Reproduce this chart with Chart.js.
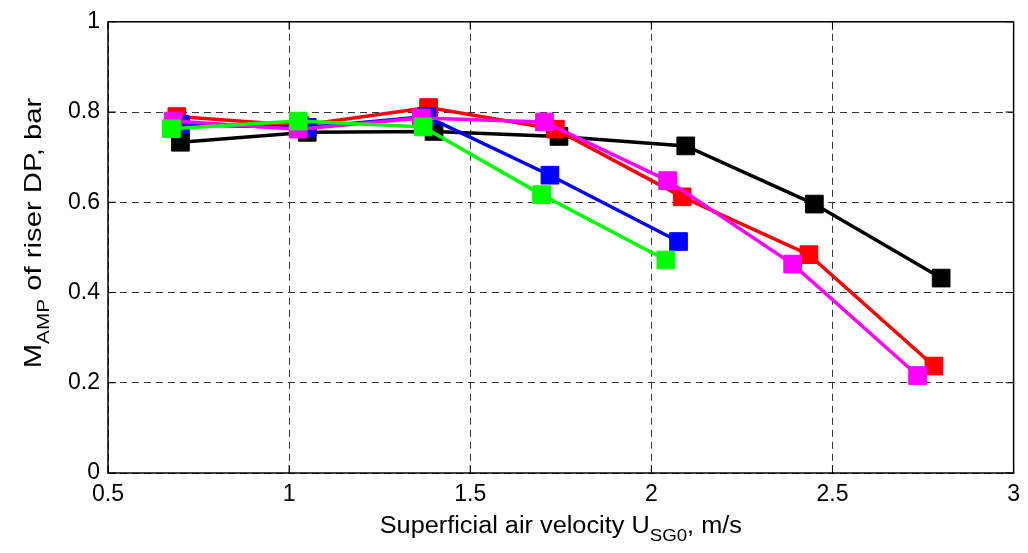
<!DOCTYPE html>
<html lang="en">
<head>
    <meta charset="UTF-8">
    <title>M_AMP of riser DP</title>
    <script src="https://cdn.jsdelivr.net/npm/chart.js"></script>
    <style>
        body { margin: 0; background: #fff; }
        .wrap { width: 1028px; height: 553px; }
    </style>
</head>
<body>
    <div class="wrap"><canvas id="chart"></canvas></div>

    <script>
        // values
        const xBlack = [0.70, 1.05, 1.40, 1.745, 2.095, 2.45, 2.80];
        const yBlack = [0.733, 0.755, 0.757, 0.746, 0.725, 0.596, 0.432];

        const xRed = [0.69, 1.03, 1.385, 1.735, 2.085, 2.435, 2.78];
        const yRed = [0.79, 0.77, 0.81, 0.762, 0.612, 0.484, 0.237];

        const xBlue = [0.70, 1.05, 1.38, 1.72, 2.075];
        const yBlue = [0.772, 0.766, 0.79, 0.66, 0.513];

        const xMagenta = [0.68, 1.025, 1.365, 1.705, 2.045, 2.39, 2.735];
        const yMagenta = [0.78, 0.762, 0.787, 0.778, 0.648, 0.463, 0.216];

        const xGreen = [0.675, 1.025, 1.37, 1.697, 2.04];
        const yGreen = [0.763, 0.78, 0.767, 0.617, 0.472];

        const FONT = "'Liberation Sans', Arial, sans-serif";

        function series(xs, ys, color, order) {
            return {
                data: xs.map((x, i) => ({ x: x, y: ys[i] })),
                borderColor: color,
                backgroundColor: color,
                borderWidth: 3.5,
                pointStyle: 'rect',
                pointRadius: 12.5,
                pointBorderWidth: 1,
                pointBorderColor: color,
                pointBackgroundColor: color,
                showLine: true,
                order: order
            };
        }

        // draws text pieces (normal + subscript) in a row, centred on 0
        function drawRich(ctx, parts, baseline) {
            let total = 0;
            parts.forEach(p => { ctx.font = p[1]; total += ctx.measureText(p[0]).width; });
            let x = -total / 2;
            parts.forEach(p => {
                ctx.font = p[1];
                ctx.fillText(p[0], x, baseline + p[2]);
                x += ctx.measureText(p[0]).width;
            });
        }

        // MATLAB style box, inward ticks and axis titles with subscripts
        const frame = {
            id: 'frame',
            afterDraw(chart) {
                const { ctx, chartArea: a, scales } = chart;
                ctx.save();
                ctx.strokeStyle = '#000';
                ctx.lineWidth = 1.5;
                ctx.strokeRect(a.left, a.top, a.right - a.left, a.bottom - a.top);

                ctx.lineWidth = 1;
                ctx.beginPath();
                scales.x.ticks.forEach(t => {
                    const px = scales.x.getPixelForValue(t.value);
                    ctx.moveTo(px, a.bottom); ctx.lineTo(px, a.bottom - 8);
                    ctx.moveTo(px, a.top); ctx.lineTo(px, a.top + 8);
                });
                scales.y.ticks.forEach(t => {
                    const py = scales.y.getPixelForValue(t.value);
                    ctx.moveTo(a.left, py); ctx.lineTo(a.left + 8, py);
                    ctx.moveTo(a.right, py); ctx.lineTo(a.right - 8, py);
                });
                ctx.stroke();

                ctx.fillStyle = '#000';
                ctx.textBaseline = 'alphabetic';

                // x title
                ctx.save();
                ctx.translate((a.left + a.right) / 2, 0);
                ctx.scale(1.1, 1);
                drawRich(ctx, [
                    ['Superficial air velocity U', '23px ' + FONT, 0],
                    ['SG0', '17px ' + FONT, 8],
                    [', m/s', '23px ' + FONT, 0]
                ], 533);
                ctx.restore();

                // y title
                ctx.save();
                ctx.translate(41, 233);
                ctx.rotate(-Math.PI / 2);
                ctx.scale(1.22, 1);
                drawRich(ctx, [
                    ['M', '24px ' + FONT, 0],
                    ['AMP', '17px ' + FONT, 8],
                    [' of riser DP, bar', '24px ' + FONT, 0]
                ], 0);
                ctx.restore();

                ctx.restore();
            }
        };

        const gridStyle = {
            color: '#333',
            lineWidth: 1,
            drawTicks: false
        };

        const tickLabel = v => String(Math.round(v * 10) / 10);

        new Chart(document.getElementById('chart'), {
            type: 'scatter',
            data: {
                datasets: [
                    series(xBlack, yBlack, '#000000', 5),
                    series(xRed, yRed, '#ff0000', 4),
                    series(xBlue, yBlue, '#0000ff', 3),
                    series(xMagenta, yMagenta, '#ff00ff', 2),
                    series(xGreen, yGreen, '#00ff00', 1)
                ]
            },
            options: {
                responsive: true,
                maintainAspectRatio: false,
                animation: false,
                layout: { padding: { top: 20, right: 12, left: 0, bottom: 0 } },
                plugins: {
                    legend: { display: false },
                    tooltip: { enabled: false }
                },
                scales: {
                    x: {
                        type: 'linear',
                        min: 0.5,
                        max: 3,
                        grid: gridStyle,
                        border: { display: false, dash: [7, 5] },
                        ticks: {
                            stepSize: 0.5,
                            padding: 8,
                            color: '#000',
                            maxRotation: 0,
                            font: { family: FONT, size: 23 },
                            callback: tickLabel
                        },
                        afterFit(s) { s.height = 80; }
                    },
                    y: {
                        min: 0,
                        max: 1,
                        grid: gridStyle,
                        border: { display: false, dash: [7, 5] },
                        ticks: {
                            stepSize: 0.2,
                            padding: 8,
                            color: '#000',
                            font: { family: FONT, size: 23 },
                            callback: tickLabel
                        },
                        afterFit(s) { s.width = 108; }
                    }
                }
            },
            plugins: [frame]
        });
    </script>
</body>
</html>
